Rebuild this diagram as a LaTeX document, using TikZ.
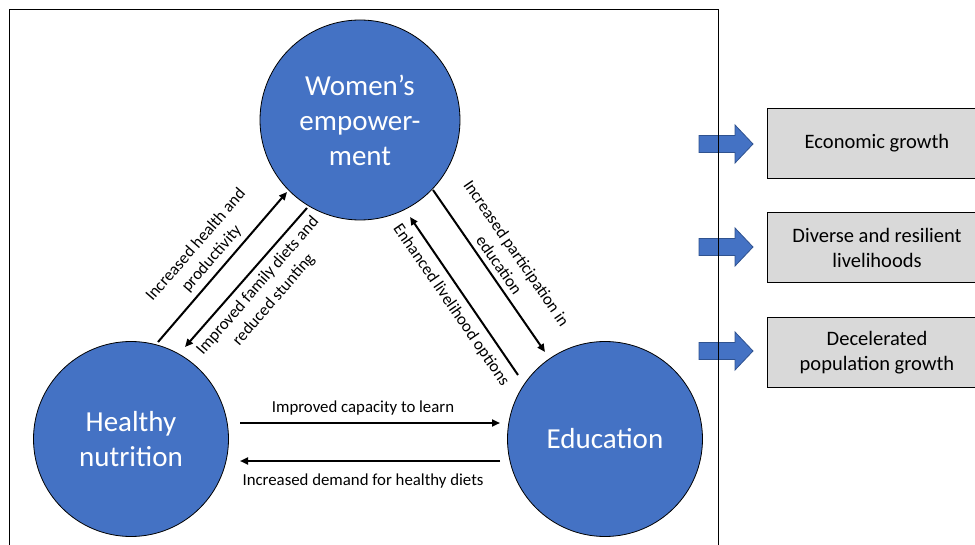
\documentclass[tikz,border=0pt]{standalone}
\usepackage{fontspec}
\setmainfont{Carlito}
\usetikzlibrary{arrows.meta}
\definecolor{blu}{HTML}{4472C4}
\definecolor{bluedge}{HTML}{2F528F}
\definecolor{boxgray}{HTML}{D9D9D9}
\begin{document}
\begin{tikzpicture}[x=1pt,y=-1pt,
  bubble/.style={circle, draw=black, line width=0.8pt, fill=blu, text=white, align=center, inner sep=0pt, font=\fontsize{29}{35}\selectfont},
  link/.style={line width=2pt, -{Triangle[length=8pt,width=7pt]}},
  lbl/.style={font=\fontsize{16.8}{21}\selectfont, align=center, inner sep=0pt},
  outcome/.style={draw=black, line width=0.8pt, fill=boxgray, align=center, minimum width=220pt, minimum height=70pt, inner sep=0pt, font=\fontsize{20.5}{25}\selectfont},
  blockarrow/.style={fill=blu, draw=bluedge, line width=0.8pt}]
\useasboundingbox (0,0) rectangle (975,545);
\clip (0,0) rectangle (975,545);
% circles
\node[bubble, minimum size=200pt] (we) at (360,120) {Women’s\\empower-\\ment};
\node[bubble, minimum size=195pt] (hn) at (131,439) {Healthy\\nutrition};
\node[bubble, minimum size=195pt] (ed) at (605,439) {Education};
% arrow end points
\coordinate (a1s) at (158,342); \coordinate (a1e) at (287,192);
\coordinate (a2s) at (307,208); \coordinate (a2e) at (185,347);
\coordinate (a3s) at (433,190); \coordinate (a3e) at (545,352);
\coordinate (a4s) at (518,375); \coordinate (a4e) at (410,217);
\coordinate (a5s) at (240,423); \coordinate (a5e) at (500,423);
\coordinate (a6s) at (500,461); \coordinate (a6e) at (240,461);
\draw[link] (a1s) -- (a1e);
\draw[link] (a2s) -- (a2e);
\draw[link] (a3s) -- (a3e);
\draw[link] (a4s) -- (a4e);
\draw[link] (a5s) -- (a5e);
\draw[link] (a6s) -- (a6e);
% labels
\node[lbl, rotate=49] (l1) at (204,252) {Increased health and\\productivity};
\node[lbl, rotate=49] (l2) at (266,293) {Improved family diets and\\reduced stunting};
\node[lbl, rotate=-55.5] (l3) at (508,259) {Increased participation in\\education};
\node[lbl, rotate=-55.5] (l4) at (451,305) {Enhanced livelihood options};
\node[lbl, anchor=base] (l5) at (363,413) {Improved capacity to learn};
\node[lbl, anchor=base] (l6) at (363,485) {Increased demand for healthy diets};
% outcome boxes
\node[outcome] (eco) at (877,143) {Economic growth};
\node[outcome] (div) at (877,247.5) {Diverse and resilient\\livelihoods};
\node[outcome] (pop) at (877,352.5) {Decelerated\\population growth};
% block arrows
\foreach \c in {144,247,351}{
  \draw[blockarrow] (699,\c-8.5) -- (735,\c-8.5) -- (735,\c-19) -- (753,\c) -- (735,\c+19) -- (735,\c+8.5) -- (699,\c+8.5) -- cycle;
}
% frame
\draw[line width=1pt] (9,560) -- (9,10) -- (718,10) -- (718,560);
\end{tikzpicture}
\end{document}
